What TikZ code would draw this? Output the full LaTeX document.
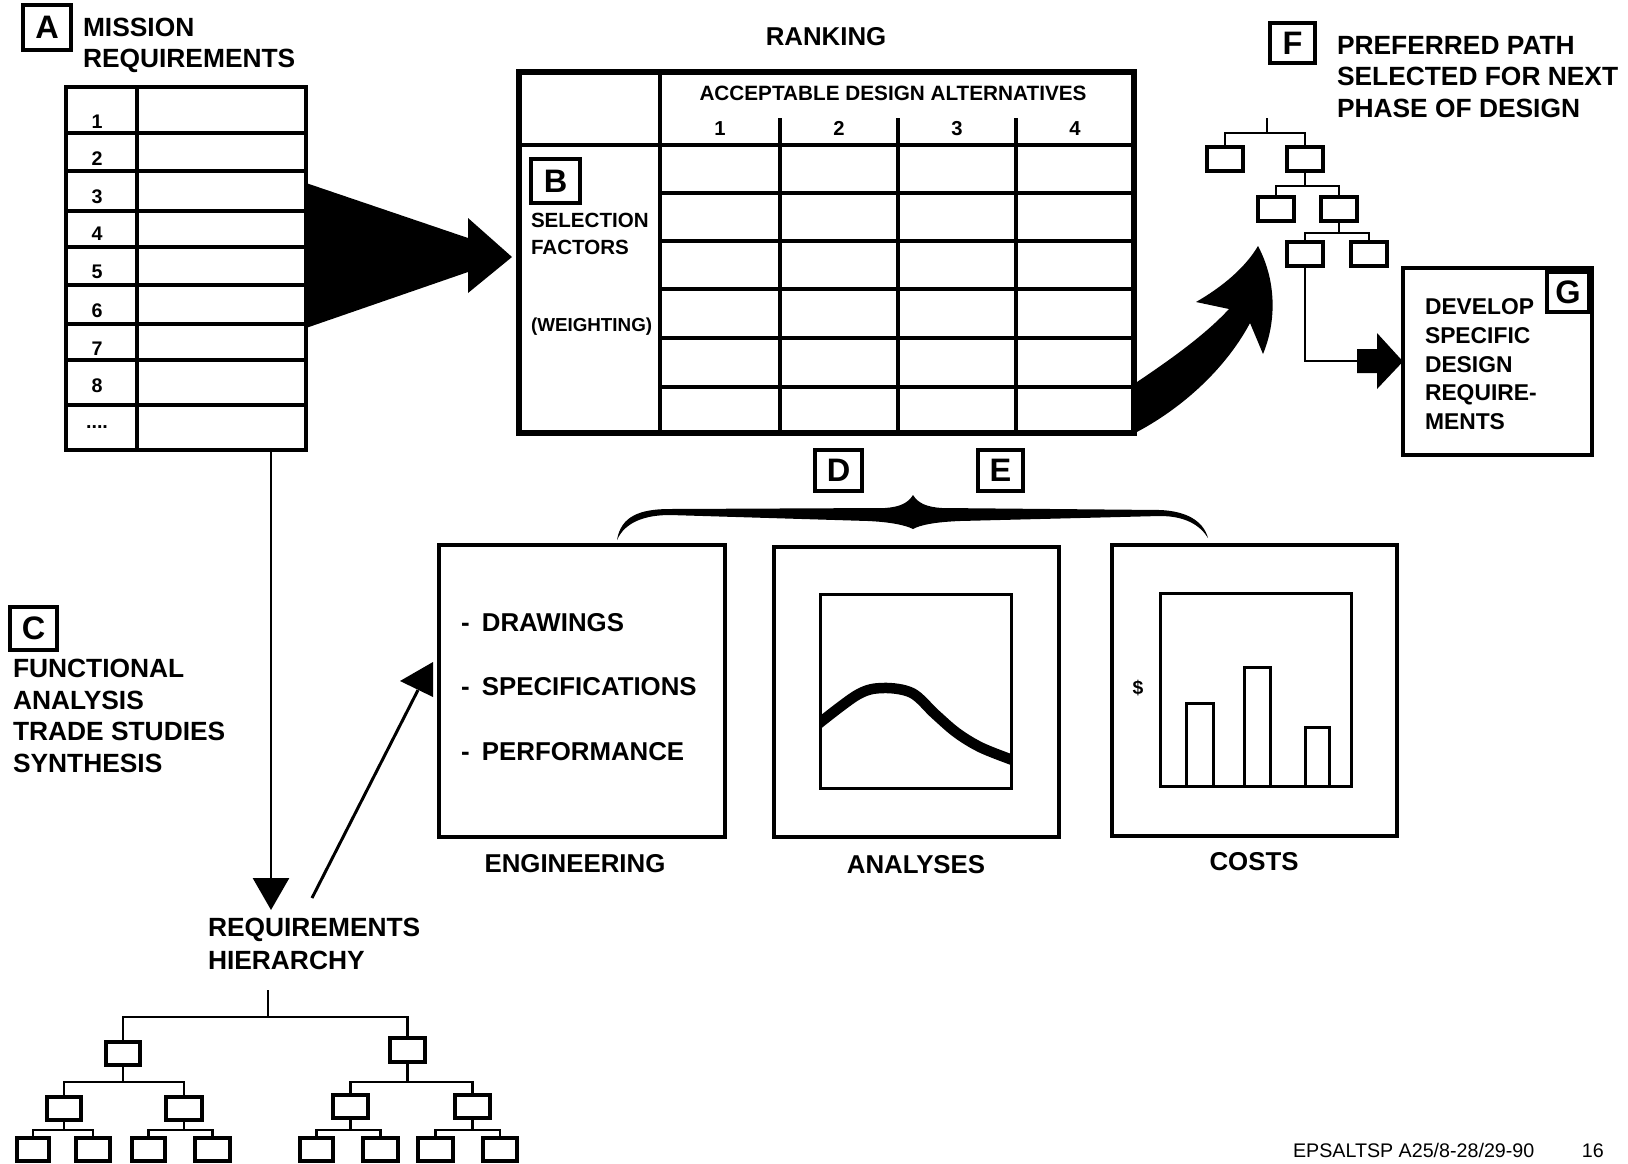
\documentclass[tikz,border=0pt]{standalone}
\usepackage{fontspec}
\setmainfont{Liberation Sans}
\usetikzlibrary{calc,arrows.meta}

% box node from corner (x1,y1) to (x2,y2), in drawing units
\newcommand\mkbox[6][]{\node[minimum width={(#5-#3)*0.02cm},minimum height={(#6-#4)*0.02cm},#1] (#2) at ({(#3+#5)/2},{(#4+#6)/2}) {};}
% lettered tag box
\newcommand\mktag[6]{\node[tagbox,minimum width={(#4-#2)*0.02cm},minimum height={(#5-#3)*0.02cm}] (#1) at ({(#2+#4)/2},{(#3+#5)/2}) {#6};}
% tree fork: parent, left child, right child, y of the bar
\newcommand\mkfork[4]{\draw[tl] (#1.south) -- (#1.south |- 0,#4) (#2.north) |- (#1.south |- 0,#4) -| (#3.north);}

\begin{document}
\begin{tikzpicture}[x=0.02cm,y=-0.02cm,
  every node/.style={inner sep=0pt,outer sep=0pt},
  tl/.style={line width=1.6pt},
  gl/.style={line width=1.8pt},
  tbox/.style={draw,line width=2pt},
  obox/.style={draw,line width=2.8pt},
  ibox/.style={draw,line width=1.7pt},
  tagbox/.style={draw,line width=1.9pt,font=\bfseries\fontsize{18.5}{18.5}\selectfont},
  htext/.style={font=\bfseries\fontsize{15}{17.8}\selectfont,align=left,anchor=north west},
  boxlabel/.style={font=\bfseries\fontsize{14.7}{17.6}\selectfont,anchor=base},
  stext/.style={font=\bfseries\fontsize{11.7}{15.4}\selectfont,align=left},
  numtext/.style={font=\bfseries\fontsize{11.2}{12}\selectfont,anchor=base}]

\fill[white] (0,0) rectangle (1628,1163);
\useasboundingbox (0,0) rectangle (1628,1163);

% ---------- A: mission requirements ----------
\mktag{ta}{23}{5}{71}{50}{A}
\node[htext] (mreqtxt) at (83,18) {MISSION\\REQUIREMENTS};
\mkbox[draw,line width=2.5pt]{mreq}{66}{87}{306}{450}
\draw[gl] (137,87) -- (137,450);
\foreach \y in {133,171,211,247,285,324,360,405} \draw[gl] (66,\y) -- (306,\y);
\foreach \n/\y in {1/128,2/165,3/203,4/240,5/278,6/317,7/355,8/392}
  \node[numtext] (mn\n) at (97,\y) {\n};
\node[numtext] (mndots) at (97,428) {....};

% wide arrow into the ranking matrix
\fill (306,183) -- (468,238) -- (468,218) -- (512,257) -- (468,293) -- (468,272) -- (306,328) -- cycle;

% ---------- B: ranking matrix ----------
\node[font=\bfseries\fontsize{14.7}{17}\selectfont,anchor=base] (rankt) at (826,45) {RANKING};
\mkbox[draw,line width=3pt]{rank}{519}{72}{1134}{433}
\draw[gl] (519,145) -- (1134,145);
\draw[gl] (660,72) -- (660,433);
\foreach \x in {780,898,1016} \draw[gl] (\x,118) -- (\x,433);
\foreach \y in {193,241,289,338,387} \draw[gl] (660,\y) -- (1134,\y);
\node[font=\bfseries\fontsize{11.8}{14}\selectfont,anchor=base] (alttxt) at (893,100) {ACCEPTABLE DESIGN ALTERNATIVES};
\foreach \n/\x in {1/720,2/839,3/957,4/1075}
  \node[numtext,font=\bfseries\fontsize{11.5}{13}\selectfont] (alt\n) at (\x,135) {\n};
\mktag{tb}{531}{159}{580}{203}{B}
\node[stext,anchor=north west] (seltxt) at (531,213) {SELECTION\\FACTORS};
\node[font=\bfseries\fontsize{10.7}{13}\selectfont,anchor=base west] (wtxt) at (531,331) {(WEIGHTING)};

% curved arrow to the preferred path
\fill (1131,386) .. controls (1170,360) and (1205,335) .. (1229,309)
  -- (1196,302) .. controls (1222,287) and (1245,268) .. (1258,246)
  .. controls (1276,280) and (1277,320) .. (1263,354)
  -- (1250,323) .. controls (1225,370) and (1180,410) .. (1133,434) -- cycle;

% ---------- F: preferred path ----------
\mktag{tf}{1270}{23}{1315}{63}{F}
\node[htext,font=\bfseries\fontsize{15}{17.9}\selectfont] (ftxt) at (1337,36) {PREFERRED PATH\\SELECTED FOR NEXT\\PHASE OF DESIGN};
\coordinate (froot) at (1267,118);
\mkbox[tbox]{f1l}{1207}{147}{1243}{171}
\mkbox[tbox]{f1r}{1287}{147}{1323}{171}
\mkbox[tbox]{f2l}{1258}{197}{1294}{221}
\mkbox[tbox]{f2r}{1321}{197}{1357}{221}
\mkbox[tbox]{f3l}{1287}{242}{1323}{266}
\mkbox[tbox]{f3r}{1351}{242}{1387}{266}
\draw[tl] (froot) -- (froot |- 0,133);
\draw[tl] (f1l.north) |- (froot |- 0,133) -| (f1r.north);
\mkfork{f1r}{f2l}{f2r}{186}
\mkfork{f2r}{f3l}{f3r}{233}

% ---------- G: specific design requirements ----------
\mkbox[obox]{gbox}{1403}{268}{1592}{455}
\mktag{tg}{1547}{272}{1589}{312}{G}
\node[htext,font=\bfseries\fontsize{13}{16.3}\selectfont] (gtxt) at (1425,299) {DEVELOP\\SPECIFIC\\DESIGN\\REQUIRE-\\MENTS};
\coordinate (gjoin) at (1357,361);
\draw[tl] (f3l.south) |- (gjoin);
\fill (gjoin |- 0,349) -- (1377,349) -- (1377,333) -- (gbox.west) -- (1377,389) -- (1377,373) -- (gjoin |- 0,373) -- cycle;

% ---------- C: functional analysis ----------
\mktag{tc}{10}{607}{57}{650}{C}
\node[htext,font=\bfseries\fontsize{15}{18}\selectfont] (ctxt) at (13,659) {FUNCTIONAL\\ANALYSIS\\TRADE STUDIES\\SYNTHESIS};

% down to the requirements hierarchy
\coordinate (vtip) at (271,910);
\draw[tl,-{Triangle[length=0.64cm,width=0.72cm]}] (vtip |- mreq.south) -- (vtip);
\node[htext,font=\bfseries\fontsize{15}{18.8}\selectfont] (reqh) at (208,918) {REQUIREMENTS\\HIERARCHY};

% back up to engineering
\coordinate (dstart) at (312,898);
\coordinate (dtip) at (433,662);
\draw[line width=1.7pt] (dstart) -- ($(dtip)+(-15,28)$);
\fill (dtip) -- ++(-33,19) -- ++(33,16) -- cycle;

% requirements hierarchy tree
\coordinate (hroot) at (268,990);
\mkbox[tbox]{h1l}{106}{1042}{140}{1065}
\mkbox[tbox]{h1r}{390}{1038}{425}{1062}
\mkbox[tbox]{h2a}{47}{1097}{81}{1120}
\mkbox[tbox]{h2b}{166}{1097}{202}{1120}
\mkbox[tbox]{h2c}{333}{1095}{368}{1118}
\mkbox[tbox]{h2d}{455}{1095}{490}{1118}
\mkbox[tbox]{h3a}{17}{1138}{49}{1161}
\mkbox[tbox]{h3b}{76}{1138}{110}{1161}
\mkbox[tbox]{h3c}{132}{1138}{165}{1161}
\mkbox[tbox]{h3d}{195}{1138}{230}{1161}
\mkbox[tbox]{h3e}{300}{1138}{333}{1161}
\mkbox[tbox]{h3f}{363}{1138}{398}{1161}
\mkbox[tbox]{h3g}{418}{1138}{453}{1161}
\mkbox[tbox]{h3h}{483}{1138}{517}{1161}
\draw[tl] (hroot) -- (hroot |- 0,1017);
\draw[tl] (h1l.north) |- (hroot |- 0,1017) -| (h1r.north);
\mkfork{h1l}{h2a}{h2b}{1082}
\mkfork{h1r}{h2c}{h2d}{1082}
\mkfork{h2a}{h3a}{h3b}{1130}
\mkfork{h2b}{h3c}{h3d}{1130}
\mkfork{h2c}{h3e}{h3f}{1130}
\mkfork{h2d}{h3g}{h3h}{1130}

% ---------- D, E: engineering, analyses, costs ----------
\mktag{td}{815}{450}{862}{491}{D}
\mktag{te}{978}{450}{1023}{491}{E}
\fill (617,540) .. controls (621,516) and (640,509) .. (670,509)
  -- (885,508) .. controls (900,507) and (908,503) .. (913,495)
  .. controls (918,503) and (926,507) .. (942,508)
  -- (1160,510) .. controls (1185,511) and (1203,520) .. (1208,538)
  .. controls (1200,525) and (1185,516) .. (1160,516)
  -- (960,521) .. controls (935,522) and (920,525) .. (913,529)
  .. controls (905,525) and (890,522) .. (868,521)
  -- (670,515) .. controls (645,515) and (625,522) .. (617,540) -- cycle;

\mkbox[obox]{eng}{439}{545}{725}{837}
\node[htext,font=\bfseries\fontsize{14.7}{36.7}\selectfont] (engtxt) at (461,613)
  {-\hspace{7pt}DRAWINGS\\-\hspace{7pt}SPECIFICATIONS\\-\hspace{7pt}PERFORMANCE};
\node[boxlabel] (englbl) at (575,872) {ENGINEERING};

\mkbox[obox]{ana}{774}{547}{1059}{837}
\mkbox[ibox]{anai}{820}{594}{1011}{788}
\begin{scope}
  \clip (anai.north west) rectangle (anai.south east);
  \draw[line width=0.21cm,line join=round] plot[smooth,tension=0.55] coordinates
    {(812,729) (857,695) (883,688) (912,693) (935,714) (957,733) (982,748) (1018,762)};
\end{scope}
\node[boxlabel] (analbl) at (916,873) {ANALYSES};

\mkbox[obox]{cost}{1112}{545}{1397}{836}
\mkbox[ibox]{costi}{1160}{593}{1351}{786}
\mkbox[ibox]{bar1}{1186}{703}{1213}{786}
\mkbox[ibox]{bar2}{1244}{667}{1270}{786}
\mkbox[ibox]{bar3}{1305}{727}{1329}{786}
\node[font=\bfseries\fontsize{11}{12}\selectfont] (dollar) at (1138,688) {\$};
\node[boxlabel] (costlbl) at (1254,870) {COSTS};

% page reference line along the lower edge
\node[font=\fontsize{11.2}{13}\selectfont,anchor=base west] (pgref) at (1293,1157)
  {EPSALTSP A25/8-28/29-90\hspace{27pt}16};
\end{tikzpicture}
\end{document}
